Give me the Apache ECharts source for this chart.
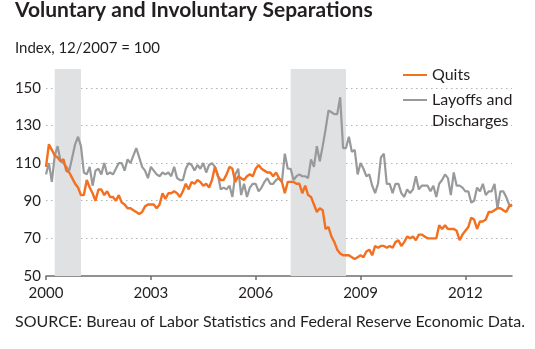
<!DOCTYPE html>
<html><head><meta charset="utf-8">
<script src="https://cdn.jsdelivr.net/npm/echarts@6/dist/echarts.min.js"></script>
<style>html,body{margin:0;padding:0;background:#fff}#c{width:535px;height:349px}</style>
</head><body><div id="c"></div>
<script>
// Monthly index values (12/2007 = 100), first point at the "2000" tick
const quits = [108,120,117,114,113,111,112,106,105,102,99,97,93,93,101,97,94,90,96,96,
93,95,92,92,90,93,89,88,86,86,85,84,83,84,87,88,88,88,86,88,
94,91,94,94,95,94,92,95,99,96,100,99,101,100,98,99,97,101,108,103,
101,101,104,108,107,100,103,102,101,103,104,103,107,109,107,106,105,105,103,105,
102,100,94,100,100,100,99,99,94,98,93,92,88,84,86,85,75,76,71,68,
64,62,61,61,61,60,59,60,61,60,63,64,61,66,65,66,66,65,66,65,
68,69,66,68,71,70,71,69,72,72,71,70,70,70,70,77,75,77,75,75,
75,74,69,72,74,76,81,80,75,79,79,80,84,84,85,86,86,85,84,87,88];
const layoffs = [104,110,100,114,119,111,110,108,106,113,120,124,119,105,104,108,98,106,107,104,
110,104,105,104,107,110,110,106,112,110,114,118,113,108,106,102,108,106,104,103,
105,104,105,103,108,102,101,101,107,110,109,106,109,107,110,105,109,110,108,104,
96,97,96,98,92,104,107,93,99,92,97,99,99,95,97,100,102,99,99,101,
102,100,115,107,107,101,103,104,103,103,102,112,108,119,111,119,128,138,137,136,
136,145,118,118,124,116,117,104,110,107,103,104,98,94,99,113,115,99,99,94,
99,99,94,92,96,94,96,103,96,98,98,98,95,98,92,99,101,104,102,93,
105,98,98,97,95,95,89,90,97,95,99,93,95,95,99,86,95,95,92,88,87];
const startYear = 2000;
const xTickLabels = ['2000','2003','2006','2009','2012'];
const yTicks = [50,70,90,110,130,150];
const recessions = [['2000-04','2001-01'],['2007-01','2008-08']];

const months = [];
for (let i = 0; i < quits.length; i++) {
  const y = startYear + Math.floor(i / 12), m = i % 12 + 1;
  months.push(y + '-' + (m < 10 ? '0' + m : m));
}
const FONT = 'Lato';
const TXT = '#231f20';
const isTick = function (i, v) { return xTickLabels.indexOf(v.slice(0, 4)) >= 0 && v.slice(5) === '01'; };
const chart = echarts.init(document.getElementById('c'), null, {renderer: 'canvas'});
chart.setOption({
  animation: false,
  backgroundColor: '#fff',
  title: [
    {text: 'Voluntary and Involuntary Separations', left: 15, top: 0, padding: 0,
     textStyle: {fontFamily: FONT, fontWeight: 'bold', fontSize: 21, color: TXT}},
    {text: 'Index, 12/2007 = 100', left: 15, top: 41, padding: 0,
     textStyle: {fontFamily: FONT, fontWeight: 'normal', fontSize: 15, color: TXT}},
    {text: 'SOURCE: Bureau of Labor Statistics and Federal Reserve Economic Data.', left: 15, top: 314, padding: 0,
     textStyle: {fontFamily: FONT, fontWeight: 'normal', fontSize: 16, color: TXT}}
  ],
  legend: [
    {data: ['Quits'], orient: 'vertical', left: 403, top: 66, padding: 0, icon: 'rect',
     itemWidth: 24, itemHeight: 2, itemGap: 0,
     textStyle: {fontFamily: FONT, fontSize: 16, color: TXT, lineHeight: 18}},
    {data: ['Layoffs and Discharges'], orient: 'vertical', left: 403, top: 68.5, padding: 0, icon: 'rect',
     itemWidth: 24, itemHeight: 2, itemGap: 0,
     formatter: function () { return ' \nLayoffs and\nDischarges'; },
     textStyle: {fontFamily: FONT, fontSize: 16, color: TXT, lineHeight: 21}}
  ],
  grid: {left: 46, right: 23, top: 69, bottom: 73},
  xAxis: {
    type: 'category', data: months, boundaryGap: false,
    axisLine: {lineStyle: {color: '#6d6e71', width: 1.5}},
    axisTick: {length: 4, lineStyle: {color: '#6d6e71', width: 1.5}, interval: isTick},
    axisLabel: {margin: 10, fontFamily: FONT, fontSize: 15, color: TXT, interval: isTick,
      formatter: function (v) { return v.slice(0, 4); }},
    splitLine: {show: false}
  },
  yAxis: {
    type: 'value', min: yTicks[0], max: 160, interval: 20,
    axisLine: {show: false}, axisTick: {show: false},
    axisLabel: {margin: 5, fontFamily: FONT, fontSize: 15, color: TXT, showMaxLabel: false},
    splitLine: {show: true, showMaxLine: false, showMinLine: false,
      lineStyle: {color: '#b1b3b6', width: 1, type: [1.5, 3.5]}}
  },
  series: [
    {name: 'Layoffs and Discharges', type: 'line', data: layoffs, showSymbol: false,
     color: '#97999b', lineStyle: {color: '#97999b', width: 2.2},
     markArea: {silent: true, itemStyle: {color: '#e0e1e3'},
       data: recessions.map(r => [{xAxis: r[0]}, {xAxis: r[1]}])}},
    {name: 'Quits', type: 'line', data: quits, showSymbol: false,
     color: '#f37021', lineStyle: {color: '#f37021', width: 2.4}}
  ]
});
</script></body></html>
